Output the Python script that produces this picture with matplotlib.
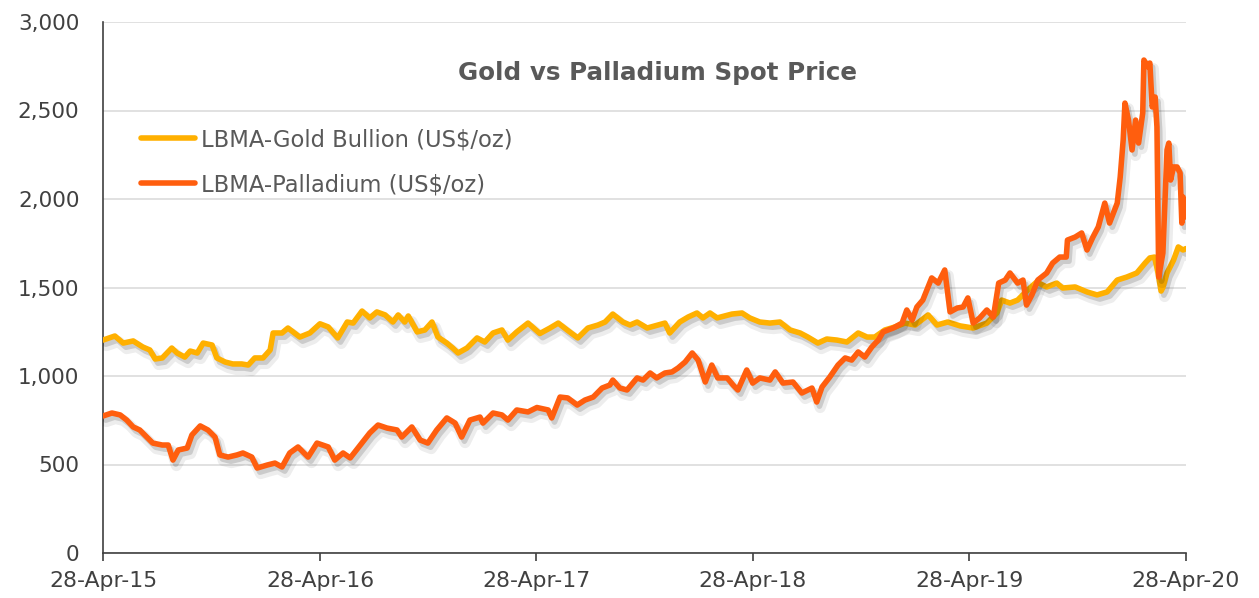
import matplotlib
matplotlib.use("Agg")
import matplotlib.pyplot as plt
import matplotlib.dates as mdates
import matplotlib.patheffects as pe
from matplotlib.lines import Line2D
from matplotlib.ticker import FuncFormatter
import pandas as pd

# ---------------- data ----------------
gold_dates = [
    "2015-04-28", "2015-05-18", "2015-06-01", "2015-06-18", "2015-07-04", "2015-07-16", "2015-07-25",
    "2015-08-06", "2015-08-22", "2015-08-31", "2015-09-13", "2015-09-22", "2015-10-04", "2015-10-14",
    "2015-10-29", "2015-11-06", "2015-11-20", "2015-12-03", "2015-12-18", "2015-12-29", "2016-01-09",
    "2016-01-23", "2016-02-04", "2016-02-09", "2016-02-24", "2016-03-05", "2016-03-25", "2016-04-11",
    "2016-04-28", "2016-05-12", "2016-05-28", "2016-06-13", "2016-06-23", "2016-07-08", "2016-07-21",
    "2016-08-02", "2016-08-16", "2016-08-29", "2016-09-07", "2016-09-18", "2016-09-24", "2016-10-09",
    "2016-10-22", "2016-11-03", "2016-11-13", "2016-11-28", "2016-12-08", "2016-12-17", "2017-01-01",
    "2017-01-18", "2017-01-31", "2017-02-14", "2017-03-01", "2017-03-11", "2017-03-26", "2017-04-14",
    "2017-05-04", "2017-05-21", "2017-06-04", "2017-06-19", "2017-07-07", "2017-07-24", "2017-08-10",
    "2017-08-22", "2017-09-04", "2017-09-21", "2017-10-03", "2017-10-15", "2017-11-01", "2017-11-19",
    "2017-12-01", "2017-12-09", "2017-12-26", "2018-01-09", "2018-01-24", "2018-02-03", "2018-02-15",
    "2018-02-27", "2018-03-24", "2018-04-10", "2018-04-23", "2018-05-10", "2018-05-27", "2018-06-13",
    "2018-06-30", "2018-07-17", "2018-07-30", "2018-08-16", "2018-08-31", "2018-09-17", "2018-10-04",
    "2018-10-23", "2018-11-07", "2018-11-20", "2018-12-07", "2018-12-24", "2019-01-10", "2019-01-27",
    "2019-02-18", "2019-03-05", "2019-03-23", "2019-04-13", "2019-05-05", "2019-05-28", "2019-06-14",
    "2019-06-22", "2019-07-06", "2019-07-19", "2019-08-05", "2019-08-20", "2019-09-06", "2019-09-23",
    "2019-10-03", "2019-10-24", "2019-11-13", "2019-11-30", "2019-12-17", "2020-01-03", "2020-01-19",
    "2020-02-05", "2020-02-19", "2020-02-27", "2020-03-06", "2020-03-12", "2020-03-17", "2020-03-20",
    "2020-03-27", "2020-04-07", "2020-04-15", "2020-04-23", "2020-04-28",
]
gold_values = [
    1203, 1226, 1186, 1198, 1164, 1147, 1096,
    1102, 1158, 1130, 1107, 1141, 1130, 1186,
    1175, 1102, 1079, 1068, 1068, 1062, 1102,
    1102, 1147, 1243, 1243, 1271, 1220, 1243,
    1295, 1277, 1215, 1305, 1299, 1367, 1328,
    1362, 1345, 1305, 1345, 1305, 1339, 1249,
    1260, 1305, 1220, 1186, 1158, 1130, 1158,
    1215, 1192, 1243, 1260, 1203, 1249, 1299,
    1240, 1271, 1299, 1260, 1215, 1271, 1288,
    1305, 1350, 1305, 1288, 1305, 1271, 1288,
    1299, 1243, 1305, 1333, 1356, 1328, 1356,
    1328, 1350, 1356, 1328, 1305, 1299, 1305,
    1260, 1243, 1220, 1186, 1209, 1203, 1192,
    1243, 1220, 1220, 1260, 1277, 1299, 1288,
    1345, 1288, 1305, 1283, 1271, 1299, 1356,
    1429, 1412, 1429, 1486, 1531, 1503, 1525,
    1497, 1503, 1475, 1458, 1475, 1542, 1559,
    1582, 1638, 1667, 1672, 1580, 1480, 1500,
    1582, 1655, 1729, 1712, 1720,
]

palladium_dates = [
    "2015-04-28", "2015-05-13", "2015-05-27", "2015-06-07", "2015-06-18", "2015-06-29", "2015-07-11",
    "2015-07-21", "2015-08-06", "2015-08-16", "2015-08-24", "2015-09-02", "2015-09-17", "2015-09-25",
    "2015-10-09", "2015-10-22", "2015-11-03", "2015-11-11", "2015-11-25", "2015-12-10", "2015-12-20",
    "2016-01-04", "2016-01-13", "2016-01-30", "2016-02-12", "2016-02-24", "2016-03-08", "2016-03-22",
    "2016-04-08", "2016-04-23", "2016-05-12", "2016-05-23", "2016-06-06", "2016-06-18", "2016-07-05",
    "2016-07-21", "2016-08-04", "2016-08-19", "2016-09-05", "2016-09-13", "2016-09-30", "2016-10-14",
    "2016-10-27", "2016-11-11", "2016-11-28", "2016-12-12", "2016-12-23", "2017-01-06", "2017-01-23",
    "2017-01-28", "2017-02-14", "2017-03-01", "2017-03-11", "2017-03-26", "2017-04-14", "2017-04-29",
    "2017-05-18", "2017-05-24", "2017-06-07", "2017-06-20", "2017-07-06", "2017-07-19", "2017-08-02",
    "2017-08-17", "2017-08-30", "2017-09-04", "2017-09-16", "2017-09-28", "2017-10-15", "2017-10-25",
    "2017-11-06", "2017-11-17", "2017-12-01", "2017-12-13", "2017-12-23", "2018-01-04", "2018-01-16",
    "2018-01-26", "2018-02-07", "2018-02-18", "2018-02-28", "2018-03-16", "2018-03-26", "2018-04-03",
    "2018-04-18", "2018-04-28", "2018-05-10", "2018-05-27", "2018-06-05", "2018-06-18", "2018-07-05",
    "2018-07-20", "2018-08-06", "2018-08-14", "2018-08-23", "2018-09-05", "2018-09-19", "2018-10-01",
    "2018-10-12", "2018-10-23", "2018-11-03", "2018-11-15", "2018-11-26", "2018-12-04", "2018-12-21",
    "2019-01-05", "2019-01-13", "2019-01-22", "2019-01-30", "2019-02-09", "2019-02-24", "2019-03-07",
    "2019-03-18", "2019-03-27", "2019-04-08", "2019-04-18", "2019-04-26", "2019-05-05", "2019-05-16",
    "2019-05-28", "2019-06-08", "2019-06-17", "2019-06-28", "2019-07-06", "2019-07-19", "2019-07-28",
    "2019-08-03", "2019-08-12", "2019-08-22", "2019-09-06", "2019-09-16", "2019-09-28", "2019-10-09",
    "2019-10-11", "2019-10-24", "2019-11-04", "2019-11-13", "2019-11-23", "2019-12-02", "2019-12-13",
    "2019-12-21", "2020-01-03", "2020-01-08", "2020-01-13", "2020-01-16", "2020-01-22", "2020-01-28",
    "2020-02-03", "2020-02-08", "2020-02-15", "2020-02-17", "2020-02-24", "2020-02-27", "2020-03-02",
    "2020-03-07", "2020-03-10", "2020-03-13", "2020-03-20", "2020-03-27", "2020-03-30", "2020-04-02",
    "2020-04-07", "2020-04-13", "2020-04-18", "2020-04-21", "2020-04-23", "2020-04-28",
]
palladium_values = [
    774, 791, 780, 751, 712, 695, 655,
    621, 610, 610, 525, 582, 593, 667,
    718, 695, 655, 554, 542, 554, 565,
    542, 480, 497, 508, 486, 565, 599,
    542, 621, 599, 525, 565, 537, 610,
    678, 723, 706, 695, 655, 712, 638,
    621, 695, 763, 734, 655, 751, 768,
    734, 791, 780, 751, 808, 797, 822,
    808, 763, 881, 876, 836, 864, 881,
    932, 949, 977, 932, 921, 989, 977,
    1017, 989, 1017, 1023, 1045, 1079, 1130,
    1090, 966, 1062, 989, 989, 949, 921,
    1034, 960, 989, 977, 1023, 960, 966,
    904, 932, 853, 938, 994, 1062, 1102,
    1090, 1136, 1107, 1164, 1203, 1249, 1271,
    1299, 1373, 1316, 1390, 1429, 1554, 1525,
    1599, 1362, 1384, 1390, 1441, 1299, 1328,
    1373, 1333, 1525, 1542, 1582, 1525, 1542,
    1401, 1458, 1542, 1582, 1638, 1672, 1672,
    1768, 1785, 1808, 1712, 1785, 1842, 1977,
    1864, 1977, 2124, 2333, 2542, 2446, 2277,
    2446, 2316, 2486, 2785, 2746, 2768, 2520,
    2576, 2407, 1559, 1695, 2277, 2316, 2107,
    2181, 2181, 2147, 1864, 2011, 1898,
]

series_labels = ["LBMA-Gold Bullion (US$/oz)", "LBMA-Palladium (US$/oz)"]
tick_dates = ["2015-04-28", "2016-04-28", "2017-04-28", "2018-04-28", "2019-04-28", "2020-04-28"]
y_ticks = [0, 500, 1000, 1500, 2000, 2500, 3000]
title = "Gold vs Palladium Spot Price"

# ---------------- style ----------------
GOLD = "#FFB000"
PALL = "#FF5E0E"
TEXT = "#404040"
plt.rcParams["font.family"] = ["DejaVu Sans"]

fig = plt.figure(figsize=(12.59, 5.98), dpi=100)
ax = fig.add_axes([103 / 1259, 45 / 598, 1083 / 1259, 531 / 598])

shadow = [
    pe.SimpleLineShadow(offset=(2.5, -4.0), shadow_color="#000000", alpha=0.07, linewidth=8),
    pe.SimpleLineShadow(offset=(2.0, -3.0), shadow_color="#000000", alpha=0.14),
    pe.Normal(),
]

gd = pd.to_datetime(gold_dates)
pdt = pd.to_datetime(palladium_dates)
ax.plot(gd, gold_values, color=GOLD, lw=4.0, solid_joinstyle="round",
        solid_capstyle="round", path_effects=shadow, zorder=3)
ax.plot(pdt, palladium_values, color=PALL, lw=4.0, solid_joinstyle="round",
        solid_capstyle="round", path_effects=shadow, zorder=4)

ax.set_xlim(pd.Timestamp(tick_dates[0]), pd.Timestamp(tick_dates[-1]))
ax.set_ylim(0, 3000)
ax.set_yticks(y_ticks)
ax.yaxis.set_major_formatter(FuncFormatter(lambda v, p: f"{int(v):,}"))
ax.set_xticks(pd.to_datetime(tick_dates))
ax.xaxis.set_major_formatter(mdates.DateFormatter("%d-%b-%y"))

ax.grid(axis="y", color="#D9D9D9", lw=1.1, zorder=0)
ax.set_axisbelow(True)
for s in ("top", "right"):
    ax.spines[s].set_visible(False)
for s in ("left", "bottom"):
    ax.spines[s].set_color("#404040")
    ax.spines[s].set_linewidth(1.2)

ax.tick_params(axis="y", length=0, pad=17, labelsize=15.5, labelcolor=TEXT)
ax.tick_params(axis="x", length=6, width=1.2, color="#404040", direction="out",
               pad=7, labelsize=15.8, labelcolor=TEXT)

fig.text(657 / 1259, 1 - 73 / 598, title, ha="center", va="center",
         fontsize=17.7, fontweight="bold", color="#595959")

handles = [Line2D([], [], color=GOLD, lw=4.0, solid_capstyle="round"),
           Line2D([], [], color=PALL, lw=4.0, solid_capstyle="round")]
leg = ax.legend(handles, series_labels, loc="upper left",
                bbox_to_anchor=(38 / 1083, (553 - 128) / 531), frameon=False,
                fontsize=16.3, handlelength=2.4, handletextpad=0.25,
                labelspacing=0.98, borderpad=0, borderaxespad=0)
for t in leg.get_texts():
    t.set_color("#595959")

fig.savefig("out.png", dpi=100, facecolor="white")
